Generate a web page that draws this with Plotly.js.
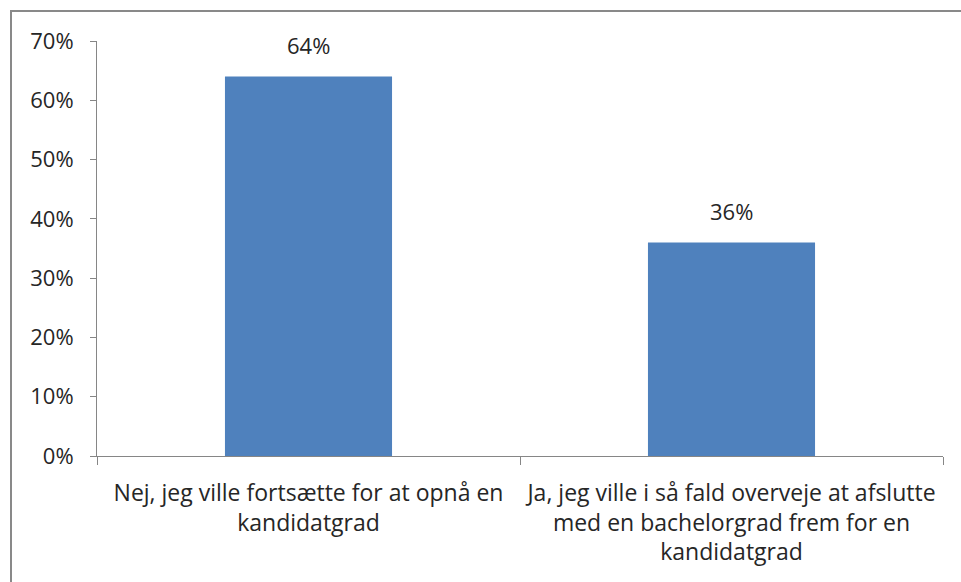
<!DOCTYPE html>
<html>
<head>
<meta charset="utf-8">
<script src="https://cdn.plot.ly/plotly-3.0.1.min.js"></script>
<style>
html,body{margin:0;padding:0;background:#fff;}
#wrap{position:relative;width:961px;height:582px;}
#chart{width:961px;height:582px;}
#frame{position:absolute;left:10px;top:10px;width:960px;height:580px;border-top:2px solid #898989;border-left:2px solid #898989;pointer-events:none;}
</style>
</head>
<body>
<div id="wrap"><div id="chart"></div><div id="frame"></div></div>
<script>
var categories = ["Nej, jeg ville fortsætte for at opnå en kandidatgrad",
                  "Ja, jeg ville i så fald overveje at afslutte med en bachelorgrad frem for en kandidatgrad"];
var tickLabels = ["Nej, jeg ville fortsætte for at opnå en<br>kandidatgrad",
                  "Ja, jeg ville i så fald overveje at afslutte<br>med en bachelorgrad frem for en<br>kandidatgrad"];
var values = [0.64, 0.36];
var valueLabels = ["64%", "36%"];
var yTickVals = [0, 0.1, 0.2, 0.3, 0.4, 0.5, 0.6, 0.7];
var yTickText = ["0%", "10%", "20%", "30%", "40%", "50%", "60%", "70%"];

var font = "'Open Sans', Lato, sans-serif";
var textColor = "#262626";
var trace = {
  type: "bar",
  x: categories,
  y: values,
  marker: {color: "#4F81BD"},
  hoverinfo: "none"
};
var annotations = categories.map(function (c, i) {
  return {
    x: c, y: values[i], xref: "x", yref: "y",
    text: valueLabels[i], showarrow: false,
    yanchor: "bottom", yshift: 15,
    font: {family: font, size: 22, color: textColor}
  };
});
var layout = {
  width: 961, height: 582,
  margin: {l: 97, r: 18, t: 41, b: 126},
  paper_bgcolor: "#fff", plot_bgcolor: "#fff",
  showlegend: false,
  bargap: 0.605,
  font: {family: font, size: 22, color: textColor},
  annotations: annotations,
  xaxis: {
    tickmode: "array", tickvals: categories, ticktext: tickLabels,
    tickson: "boundaries", ticks: "outside", ticklen: 8, tickcolor: "#868686",
    showline: true, linecolor: "#868686", linewidth: 1,
    showgrid: false, zeroline: false, tickangle: 0,
    tickfont: {family: font, size: 23, color: textColor},
    ticklabelstandoff: 16
  },
  yaxis: {
    range: [0, 0.7], tickmode: "array", tickvals: yTickVals, ticktext: yTickText,
    ticks: "outside", ticklen: 6, tickcolor: "#868686",
    showline: true, linecolor: "#868686", linewidth: 1,
    showgrid: false, zeroline: false,
    tickfont: {family: font, size: 22, color: textColor},
    ticklabelstandoff: 12
  }
};
Plotly.newPlot("chart", [trace], layout, {displayModeBar: false, staticPlot: true});
</script>
</body>
</html>
